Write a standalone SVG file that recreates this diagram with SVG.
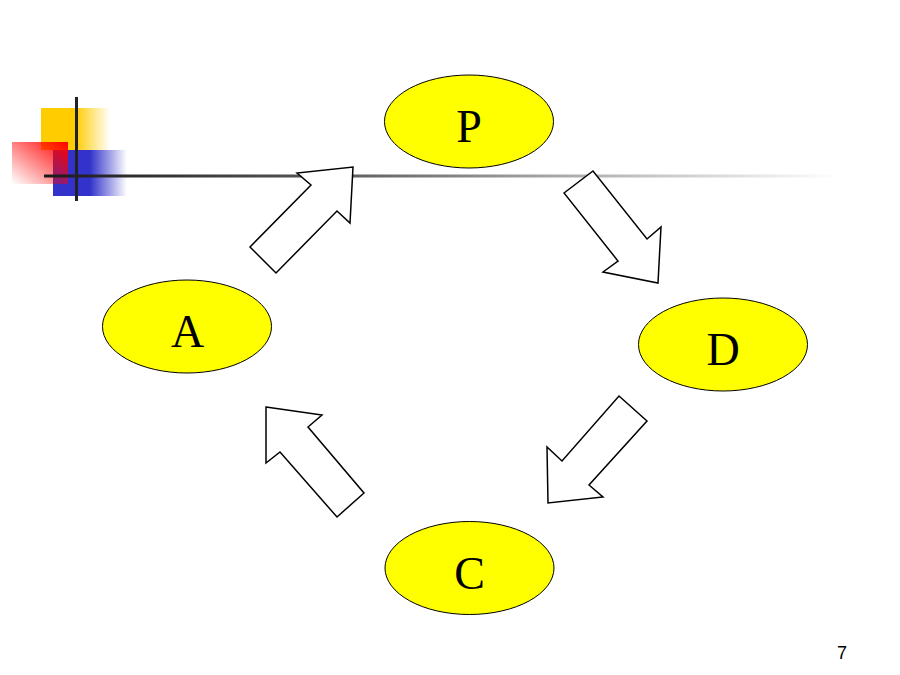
<svg xmlns="http://www.w3.org/2000/svg" width="900" height="675" viewBox="0 0 900 675">
  <defs>
    <linearGradient id="gYellow" x1="0" y1="0" x2="1" y2="0">
      <stop offset="0" stop-color="#FFCC00"/>
      <stop offset="0.5" stop-color="#FFCC00"/>
      <stop offset="1" stop-color="#FFCC00" stop-opacity="0"/>
    </linearGradient>
    <linearGradient id="gBlue" x1="0" y1="0" x2="1" y2="0">
      <stop offset="0" stop-color="#3333CC"/>
      <stop offset="0.5" stop-color="#3333CC"/>
      <stop offset="1" stop-color="#3333CC" stop-opacity="0"/>
    </linearGradient>
    <linearGradient id="gRed" x1="1" y1="0" x2="0" y2="1">
      <stop offset="0" stop-color="#FF0000"/>
      <stop offset="1" stop-color="#FF0000" stop-opacity="0"/>
    </linearGradient>
    <linearGradient id="gLine" x1="0" y1="0" x2="1" y2="0">
      <stop offset="0" stop-color="#1a1a1a"/>
      <stop offset="0.35" stop-color="#555555"/>
      <stop offset="0.65" stop-color="#aaaaaa"/>
      <stop offset="1" stop-color="#ffffff"/>
    </linearGradient>
  </defs>
  <style>
    .node ellipse { fill: #FFFF00; stroke: #000; stroke-width: 1; }
    .node text { font-family: "Liberation Serif", "Times New Roman", serif; font-size: 46px; text-anchor: middle; fill: #000; }
    .arrow { fill: #fff; stroke: #000; stroke-width: 1.5; stroke-linejoin: miter; }
    .page { font-family: "Liberation Sans", Arial, sans-serif; font-size: 18px; text-anchor: middle; fill: #000; }
  </style>
  <rect width="900" height="675" fill="#fff"/>

  <g id="decoration">
    <rect x="41" y="108" width="69" height="42" fill="url(#gYellow)"/>
    <rect x="53" y="150" width="74" height="46" fill="url(#gBlue)"/>
    <rect x="12" y="142" width="56" height="42" fill="url(#gRed)"/>
    <rect x="44" y="174.5" width="796" height="3" fill="url(#gLine)"/>
    <rect x="75" y="97" width="3" height="104" fill="#222"/>
  </g>

  <g id="connectors">
    <polygon class="arrow" points="250,247 311,185 297,173 353,167 350,223 337,211 276,273"/>
    <polygon class="arrow" points="564,193 593,171 647,239 661,227 658,283 603,272 618,261"/>
    <polygon class="arrow" points="619,396 647,421 589,485 603,497 548,503 547,447 562,461"/>
    <polygon class="arrow" points="266,407 322,415 308,427 364,493 337,517 280,452 266,463"/>
  </g>

  <g id="node-P" class="node">
    <ellipse cx="469" cy="121.5" rx="84.5" ry="46.5"/>
    <text x="469" y="142">P</text>
  </g>
  <g id="node-A" class="node">
    <ellipse cx="187" cy="326.5" rx="84.5" ry="46.5"/>
    <text x="187.5" y="347">A</text>
  </g>
  <g id="node-D" class="node">
    <ellipse cx="723" cy="344.5" rx="84.5" ry="46.5"/>
    <text x="723" y="365">D</text>
  </g>
  <g id="node-C" class="node">
    <ellipse cx="469.5" cy="568" rx="84.5" ry="46.5"/>
    <text x="469.5" y="588.5">C</text>
  </g>

  <text class="page" x="842" y="658.5">7</text>
</svg>
